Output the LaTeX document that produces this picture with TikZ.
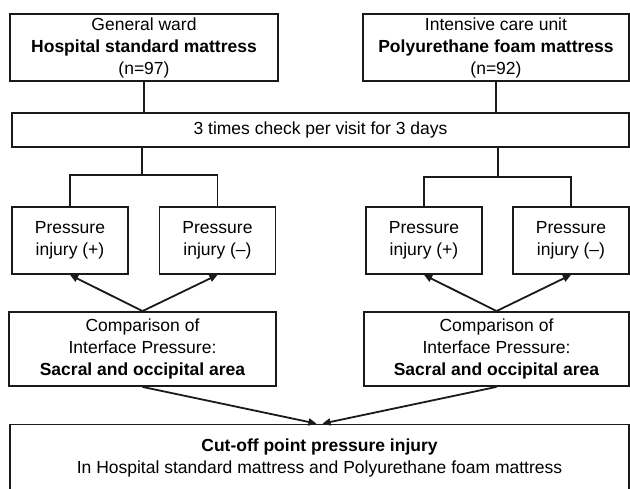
\documentclass[tikz,border=0pt]{standalone}
\usepackage{fontspec}
\setmainfont{Liberation Sans}
\usetikzlibrary{arrows.meta, positioning}
\definecolor{linecolor}{HTML}{1A1A1A}

\begin{document}
\begin{tikzpicture}[
    x=1pt, y=-1pt,
    >={Triangle[length=8pt, width=7pt]},
    line width=1.8pt,
    font=\fontsize{17.5}{22}\selectfont,
    block/.style={draw=linecolor, fill=white, line width=1.8pt, inner sep=0pt, align=center, minimum height=#1},
    block/.default=67pt,
    link/.style={draw=linecolor, line width=1.8pt},
    arr/.style={link, ->}
]
    \useasboundingbox (0,0) rectangle (630,489);

    % Groups
    \node[block, minimum width=268pt] (ward) at (144, 47.5) {General ward\\\textbf{Hospital standard mattress}\\(n=97)};
    \node[block, minimum width=266pt] (icu) at (496, 47.5) {Intensive care unit\\\textbf{Polyurethane foam mattress}\\(n=92)};

    % Check schedule
    \node[block=34pt, minimum width=617pt] (check) at (320.5, 130) {3 times check per visit for 3 days};

    % Outcome boxes
    \node[block, minimum width=116pt] (injpA) at (70, 240.5) {Pressure\\injury (+)};
    \node[block, minimum width=116pt] (injnA) at (217.5, 240.5) {Pressure\\injury (--)};
    \node[block, minimum width=116pt] (injpB) at (424, 240.5) {Pressure\\injury (+)};
    \node[block, minimum width=116pt] (injnB) at (571, 240.5) {Pressure\\injury (--)};

    % Comparison boxes
    \node[block=74pt, minimum width=267pt] (cmpA) at (142.5, 349) {Comparison of\\Interface Pressure:\\\textbf{Sacral and occipital area}};
    \node[block=74pt, minimum width=265pt] (cmpB) at (496.5, 349) {Comparison of\\Interface Pressure:\\\textbf{Sacral and occipital area}};

    % Result
    \node[block, minimum width=619pt] (cutoff) at (319.5, 458) {\textbf{Cut-off point pressure injury}\\In Hospital standard mattress and Polyurethane foam mattress};

    % Split points
    \coordinate (splitA) at (142, 175);
    \coordinate (splitB) at (498, 177);

    % Connections
    \draw[link] (ward) -- (ward |- check.north);
    \draw[link] (icu) -- (icu |- check.north);
    \draw[link] (splitA |- check.south) -- (splitA);
    \draw[link] (splitB |- check.south) -- (splitB);
    \draw[link] (injpA.north) |- (splitA) -| (injnA.north);
    \draw[link] (injpB.north) |- (splitB) -| (injnB.north);

    \draw[arr] (cmpA.north) -- (injpA.south);
    \draw[arr] (cmpA.north) -- (injnA.south);
    \draw[arr] (cmpB.north) -- (injpB.south);
    \draw[arr] (cmpB.north) -- (injnB.south);

    \draw[arr] (cmpA.south) -- ([xshift=-3pt]cutoff.north);
    \draw[arr] (cmpB.south) -- ([xshift=3pt]cutoff.north);

\end{tikzpicture}
\end{document}
